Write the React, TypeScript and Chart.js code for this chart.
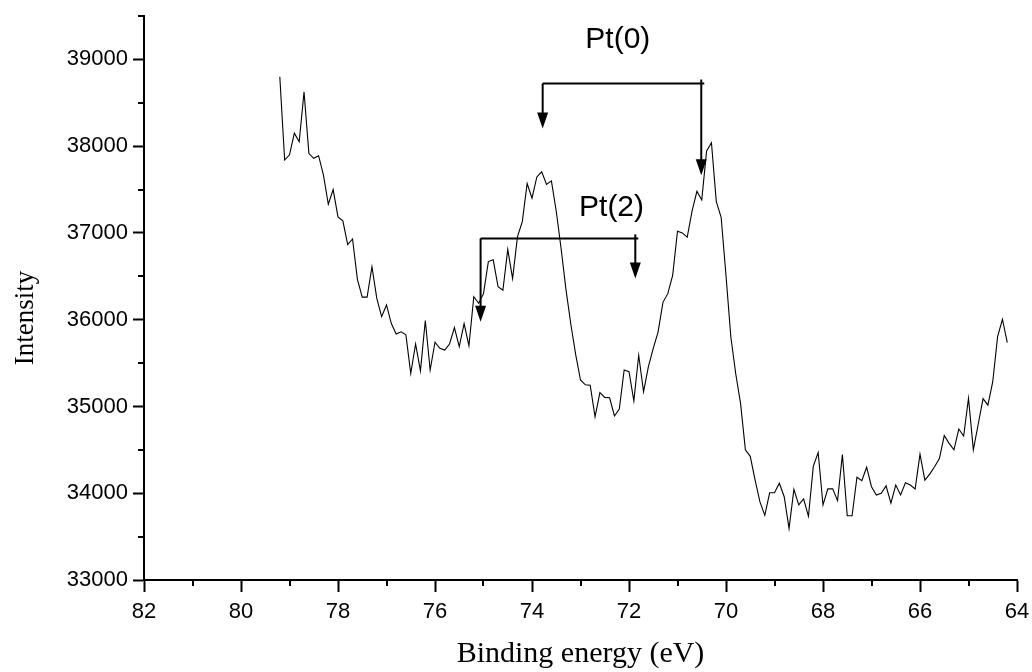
import React, { useEffect, useRef } from 'react';
import { Chart, registerables } from 'chart.js';

Chart.register(...registerables);

// Binding energy (eV), one sample every 0.1 eV
const energies = [
  79.2, 79.1, 79.0, 78.9, 78.8, 78.7, 78.6, 78.5, 78.4, 78.3,
  78.2, 78.1, 78.0, 77.9, 77.8, 77.7, 77.6, 77.5, 77.4, 77.3,
  77.2, 77.1, 77.0, 76.9, 76.8, 76.7, 76.6, 76.5, 76.4, 76.3,
  76.2, 76.1, 76.0, 75.9, 75.8, 75.7, 75.6, 75.5, 75.4, 75.3,
  75.2, 75.1, 75.0, 74.9, 74.8, 74.7, 74.6, 74.5, 74.4, 74.3,
  74.2, 74.1, 74.0, 73.9, 73.8, 73.7, 73.6, 73.5, 73.4, 73.3,
  73.2, 73.1, 73.0, 72.9, 72.8, 72.7, 72.6, 72.5, 72.4, 72.3,
  72.2, 72.1, 72.0, 71.9, 71.8, 71.7, 71.6, 71.5, 71.4, 71.3,
  71.2, 71.1, 71.0, 70.9, 70.8, 70.7, 70.6, 70.5, 70.4, 70.3,
  70.2, 70.1, 70.0, 69.9, 69.8, 69.7, 69.6, 69.5, 69.4, 69.3,
  69.2, 69.1, 69.0, 68.9, 68.8, 68.7, 68.6, 68.5, 68.4, 68.3,
  68.2, 68.1, 68.0, 67.9, 67.8, 67.7, 67.6, 67.5, 67.4, 67.3,
  67.2, 67.1, 67.0, 66.9, 66.8, 66.7, 66.6, 66.5, 66.4, 66.3,
  66.2, 66.1, 66.0, 65.9, 65.8, 65.7, 65.6, 65.5, 65.4, 65.3,
  65.2, 65.1, 65.0, 64.9, 64.8, 64.7, 64.6, 64.5, 64.4, 64.3,
  64.2,
];

const intensity = [
  38800, 37840, 37900, 38150, 38050, 38625, 37915, 37860, 37890, 37665,
  37330, 37500, 37185, 37140, 36865, 36930, 36465, 36260, 36260, 36610,
  36245, 36035, 36170, 35955, 35835, 35860, 35825, 35380, 35720, 35410,
  35990, 35420, 35740, 35670, 35650, 35720, 35910, 35690, 35955, 35700,
  36265, 36190, 36300, 36670, 36690, 36380, 36340, 36810, 36475, 36955,
  37130, 37570, 37400, 37645, 37705, 37560, 37600, 37250, 36820, 36350,
  35950, 35600, 35305, 35250, 35245, 34880, 35160, 35105, 35100, 34890,
  34970, 35420, 35400, 35065, 35590, 35170, 35460, 35670, 35860, 36200,
  36300, 36510, 37020, 37000, 36950, 37250, 37480, 37380, 37945, 38040,
  37360, 37180, 36510, 35800, 35380, 35035, 34500, 34425, 34150, 33900,
  33745, 34005, 34005, 34115, 33960, 33595, 34045, 33865, 33935, 33735,
  34310, 34470, 33865, 34050, 34050, 33915, 34445, 33740, 33740, 34185,
  34145, 34300, 34075, 33980, 34000, 34085, 33885, 34095, 33980, 34120,
  34095, 34050, 34450, 34150, 34220, 34305, 34400, 34665, 34575, 34500,
  34740, 34660, 35095, 34500, 34795, 35090, 35015, 35285, 35805, 36005,
  35735,
];

const xTicks = [82, 80, 78, 76, 74, 72, 70, 68, 66, 64];
const xMinorTicks = [81, 79, 77, 75, 73, 71, 69, 67, 65];
const yTicks = [33000, 34000, 35000, 36000, 37000, 38000, 39000];
const yMinorTicks = [33500, 34500, 35500, 36500, 37500, 38500, 39500];

const xTitle = 'Binding energy (eV)';
const yTitle = 'Intensity';

// peak-assignment brackets (data coordinates)
const peakLabels = ['Pt(0)', 'Pt(2)'];
const peakLabelX = [72.23, 72.36];
const peakLabelY = [39221, 37286];
const bracketY = [38722, 36937];
const bracketLeftX = [73.78, 75.06];
const bracketLeftTip = [38204, 35976];
const bracketRightX = [70.51, 71.87];
const bracketRightTip = [37666, 36476];

const decorations = {
  id: 'decorations',
  afterDraw(chart: any) {
    const { ctx, chartArea, scales } = chart;
    const xs = scales.x;
    const ys = scales.y;
    ctx.save();
    ctx.strokeStyle = '#000';
    ctx.fillStyle = '#000';
    ctx.lineWidth = 2;
    // minor ticks
    xMinorTicks.forEach((v) => {
      const px = Math.round(xs.getPixelForValue(v));
      ctx.beginPath();
      ctx.moveTo(px, chartArea.bottom);
      ctx.lineTo(px, chartArea.bottom + 6);
      ctx.stroke();
    });
    yMinorTicks.forEach((v) => {
      const py = Math.round(ys.getPixelForValue(v));
      ctx.beginPath();
      ctx.moveTo(chartArea.left, py);
      ctx.lineTo(chartArea.left - 6, py);
      ctx.stroke();
    });

    const arrow = (x: number, y0: number, y1: number) => {
      ctx.beginPath();
      ctx.moveTo(x, y0);
      ctx.lineTo(x, y1 - 12);
      ctx.stroke();
      ctx.beginPath();
      ctx.moveTo(x - 5.5, y1 - 16);
      ctx.lineTo(x + 5.5, y1 - 16);
      ctx.lineTo(x, y1);
      ctx.closePath();
      ctx.fill();
    };

    peakLabels.forEach((label, i) => {
      const yb = ys.getPixelForValue(bracketY[i]);
      const xl = xs.getPixelForValue(bracketLeftX[i]);
      const xr = xs.getPixelForValue(bracketRightX[i]);
      ctx.lineWidth = 2;
      ctx.beginPath();
      ctx.moveTo(xl, yb);
      ctx.lineTo(xr + 3, yb);
      ctx.stroke();
      arrow(xl, yb, ys.getPixelForValue(bracketLeftTip[i]));
      arrow(xr, yb - 4, ys.getPixelForValue(bracketRightTip[i]));
      ctx.font = '30px "Liberation Sans", Arial, sans-serif';
      ctx.textAlign = 'center';
      ctx.textBaseline = 'middle';
      ctx.fillText(label, xs.getPixelForValue(peakLabelX[i]), ys.getPixelForValue(peakLabelY[i]));
    });

    // axis titles
    ctx.font = '30px "Liberation Serif", "Times New Roman", serif';
    ctx.textAlign = 'center';
    ctx.textBaseline = 'alphabetic';
    ctx.fillText(xTitle, (chartArea.left + chartArea.right) / 2, chart.height - 10);
    ctx.save();
    ctx.translate(33, 318);
    ctx.rotate(-Math.PI / 2);
    ctx.font = '27px "Liberation Serif", "Times New Roman", serif';
    ctx.fillText(yTitle, 0, 0);
    ctx.restore();
    ctx.restore();
  },
};

export default function App() {
  const ref = useRef<HTMLCanvasElement | null>(null);
  useEffect(() => {
    const canvas = ref.current;
    if (!canvas) return;
    const tickFont = { family: '"Liberation Sans", Arial, sans-serif', size: 22 };
    const chart = new Chart(canvas, {
      type: 'line',
      data: {
        datasets: [
          {
            data: energies.map((e, i) => ({ x: e, y: intensity[i] })),
            borderColor: '#000',
            borderWidth: 1.1,
            pointRadius: 0,
            fill: false,
            tension: 0,
          },
        ],
      },
      options: {
        animation: false,
        responsive: false,
        devicePixelRatio: 1,
        layout: { padding: { top: 16, right: 15, left: 0, bottom: 0 } },
        plugins: { legend: { display: false }, tooltip: { enabled: false } },
        scales: {
          x: {
            type: 'linear',
            min: 64,
            max: 82,
            reverse: true,
            afterBuildTicks: (s: any) => {
              s.ticks = xTicks.map((v) => ({ value: v }));
            },
            afterFit: (s: any) => {
              s.height = 92;
              s.paddingLeft = 0;
              s.paddingRight = 0;
            },
            grid: { drawOnChartArea: false, drawTicks: true, tickLength: 12, tickWidth: 2, tickColor: '#000' },
            border: { color: '#000', width: 2 },
            ticks: {
              color: '#000',
              font: tickFont,
              padding: 7,
              maxRotation: 0,
              autoSkip: false,
              callback: (v: any) => String(v),
            },
          },
          y: {
            type: 'linear',
            min: 33000,
            max: 39500,
            afterBuildTicks: (s: any) => {
              s.ticks = yTicks.map((v) => ({ value: v }));
            },
            afterFit: (s: any) => {
              s.width = 144;
              s.paddingTop = 0;
              s.paddingBottom = 0;
            },
            grid: { drawOnChartArea: false, drawTicks: true, tickLength: 11, tickWidth: 2, tickColor: '#000' },
            border: { color: '#000', width: 2 },
            ticks: {
              color: '#000',
              font: tickFont,
              padding: 5,
              autoSkip: false,
              callback: (v: any) => String(v),
            },
          },
        },
      },
      plugins: [decorations],
    } as any);
    return () => chart.destroy();
  }, []);
  return (
    <div style={{ position: 'fixed', left: 0, top: 0, width: 1032, height: 672, background: '#fff' }}>
      <canvas ref={ref} width={1032} height={672} style={{ display: 'block', width: 1032, height: 672 }} />
    </div>
  );
}
